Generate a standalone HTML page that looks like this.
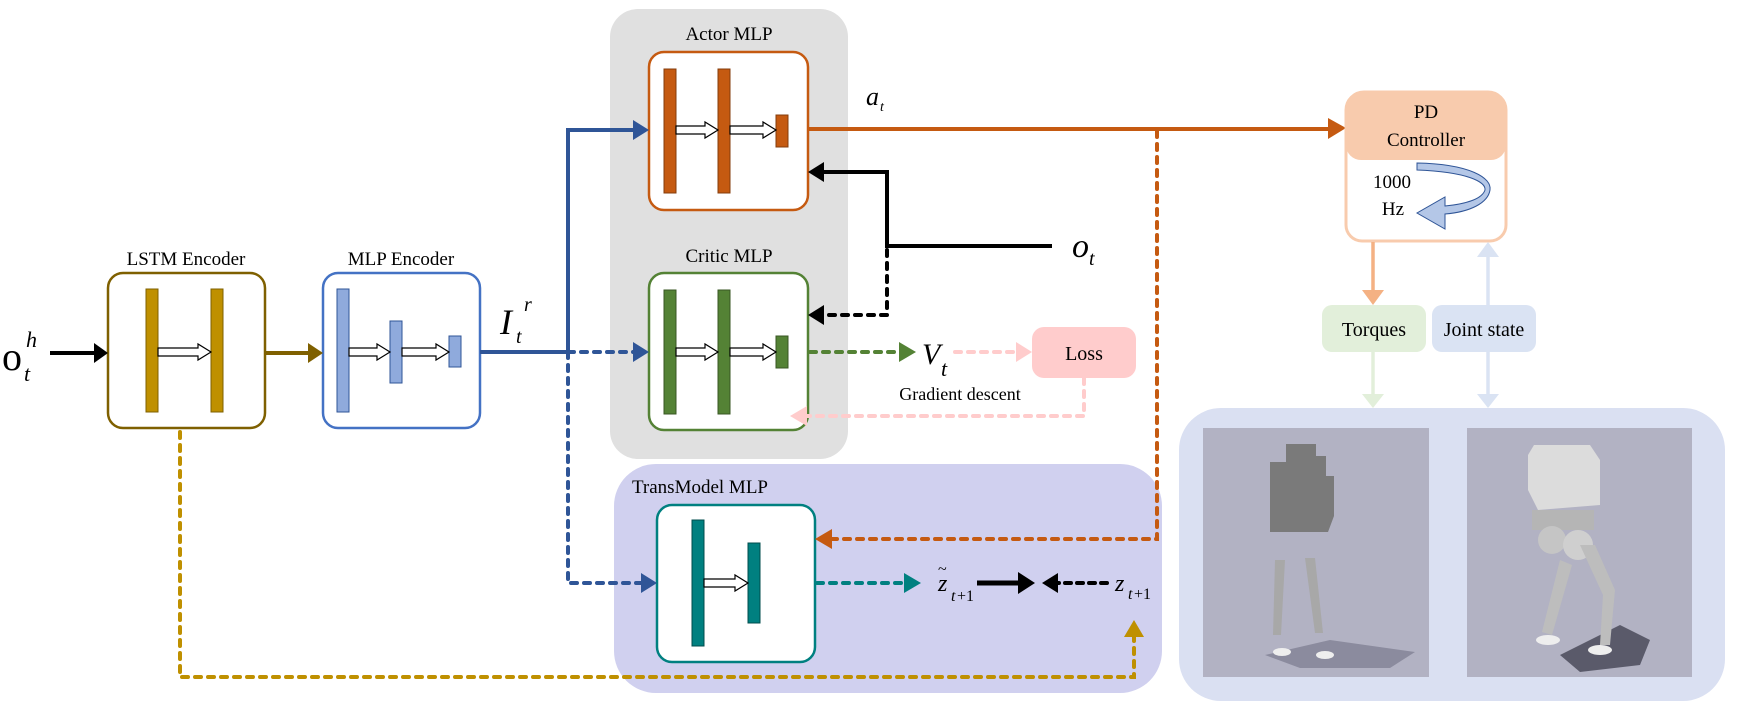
<!DOCTYPE html>
<html><head><meta charset="utf-8"><style>
html,body{margin:0;padding:0;background:#fff;}
svg{display:block;font-family:"Liberation Serif",serif;}
</style></head><body>
<svg width="1747" height="708" viewBox="0 0 1747 708" xmlns="http://www.w3.org/2000/svg">
<!-- panels -->
<rect x="610" y="9" width="238" height="450" rx="28" fill="#e0e0e0"/>
<rect x="614" y="464" width="548" height="229" rx="42" fill="#d0d0ef"/>
<rect x="1179" y="408" width="546" height="293" rx="42" fill="#dae0f2"/>

<!-- titles -->
<g font-size="19" fill="#000" text-anchor="middle">
<text x="729" y="40">Actor MLP</text>
<text x="729" y="262">Critic MLP</text>
<text x="186" y="265">LSTM Encoder</text>
<text x="401" y="265">MLP Encoder</text>
<text x="700" y="493">TransModel MLP</text>
</g>

<!-- LSTM -->
<rect x="108" y="273" width="157" height="155" rx="15" fill="#fff" stroke="#7f6000" stroke-width="2.5"/>
<rect x="146" y="289" width="12" height="123" fill="#bf9000" stroke="#7f6000"/>
<rect x="211" y="289" width="12" height="123" fill="#bf9000" stroke="#7f6000"/>
<path d="M158,348 h40 v-4 l13,8 -13,8 v-4 h-40z" fill="#fff" stroke="#000" stroke-width="1.2"/>
<!-- MLP enc -->
<rect x="323" y="273" width="157" height="155" rx="15" fill="#fff" stroke="#4472c4" stroke-width="2.5"/>
<rect x="337" y="289" width="12" height="123" fill="#8faadc" stroke="#2f5597"/>
<rect x="390" y="321" width="12" height="62" fill="#8faadc" stroke="#2f5597"/>
<rect x="449" y="336" width="12" height="31" fill="#8faadc" stroke="#2f5597"/>
<path d="M349,348 h28 v-4 l13,8 -13,8 v-4 h-28z" fill="#fff" stroke="#000" stroke-width="1.2"/>
<path d="M402,348 h34 v-4 l13,8 -13,8 v-4 h-34z" fill="#fff" stroke="#000" stroke-width="1.2"/>

<!-- Actor -->
<rect x="649" y="52" width="159" height="158" rx="15" fill="#fff" stroke="#c55a11" stroke-width="2.5"/>
<rect x="664" y="69" width="12" height="124" fill="#c55a11" stroke="#843c0c"/>
<rect x="718" y="69" width="12" height="124" fill="#c55a11" stroke="#843c0c"/>
<rect x="776" y="115" width="12" height="32" fill="#c55a11" stroke="#843c0c"/>
<path d="M676,126 h29 v-4 l13,8 -13,8 v-4 h-29z" fill="#fff" stroke="#000" stroke-width="1.2"/>
<path d="M730,126 h33 v-4 l13,8 -13,8 v-4 h-33z" fill="#fff" stroke="#000" stroke-width="1.2"/>
<!-- Critic -->
<rect x="649" y="273" width="159" height="157" rx="15" fill="#fff" stroke="#548235" stroke-width="2.5"/>
<rect x="664" y="290" width="12" height="124" fill="#548235" stroke="#385723"/>
<rect x="718" y="290" width="12" height="124" fill="#548235" stroke="#385723"/>
<rect x="776" y="336" width="12" height="32" fill="#548235" stroke="#385723"/>
<path d="M676,348 h29 v-4 l13,8 -13,8 v-4 h-29z" fill="#fff" stroke="#000" stroke-width="1.2"/>
<path d="M730,348 h33 v-4 l13,8 -13,8 v-4 h-33z" fill="#fff" stroke="#000" stroke-width="1.2"/>
<!-- TransModel -->
<rect x="657" y="505" width="158" height="157" rx="15" fill="#fff" stroke="#008080" stroke-width="2.5"/>
<rect x="692" y="520" width="12" height="126" fill="#008080" stroke="#004d4d"/>
<rect x="748" y="543" width="12" height="80" fill="#008080" stroke="#004d4d"/>
<path d="M704,579 h31 v-4 l13,8 -13,8 v-4 h-31z" fill="#fff" stroke="#000" stroke-width="1.2"/>

<!-- connectors -->
<line x1="50" y1="353" x2="96" y2="353" stroke="#000" stroke-width="4"/>
<path d="M94,343 L108,353 94,363z" fill="#000"/>
<line x1="265" y1="353" x2="310" y2="353" stroke="#7f6000" stroke-width="4"/>
<path d="M308,343 L323,353 308,363z" fill="#7f6000"/>
<path d="M480,352 H568 V130 H635" fill="none" stroke="#2f5597" stroke-width="4"/>
<path d="M633,120 L649,130 633,140z" fill="#2f5597"/>
<path d="M568,352 H635" fill="none" stroke="#2f5597" stroke-width="4" stroke-dasharray="6,7" stroke-linecap="round"/>
<path d="M633,342 L649,352 633,362z" fill="#2f5597"/>
<path d="M568,352 V583 H643" fill="none" stroke="#2f5597" stroke-width="4" stroke-dasharray="6,7" stroke-linecap="round"/>
<path d="M641,573 L657,583 641,593z" fill="#2f5597"/>
<line x1="808" y1="129" x2="1330" y2="129" stroke="#c55a11" stroke-width="4"/>
<path d="M1328,118 L1346,128 1328,139z" fill="#c55a11"/>
<path d="M1157,131 V539 H830" fill="none" stroke="#c55a11" stroke-width="4" stroke-dasharray="6,7" stroke-linecap="round"/>
<path d="M832,529 L815,539 832,549z" fill="#c55a11"/>
<path d="M1052,246 H887 V172 H822" fill="none" stroke="#000" stroke-width="4"/>
<path d="M824,162 L808,172 824,182z" fill="#000"/>
<path d="M887,250 V315 H822" fill="none" stroke="#000" stroke-width="4" stroke-dasharray="6,7" stroke-linecap="round"/>
<path d="M824,305 L808,315 824,325z" fill="#000"/>
<path d="M810,352 H900" fill="none" stroke="#548235" stroke-width="4" stroke-dasharray="6,7" stroke-linecap="round"/>
<path d="M899,342 L916,352 899,362z" fill="#548235"/>
<path d="M955,352 H1017" fill="none" stroke="#ffcccc" stroke-width="4" stroke-dasharray="6,7" stroke-linecap="round"/>
<path d="M1016,342 L1032,352 1016,362z" fill="#ffcccc"/>
<rect x="1032" y="327" width="104" height="51" rx="12" fill="#ffcccc"/>
<path d="M1084,378 V416 H806" fill="none" stroke="#ffcccc" stroke-width="4" stroke-dasharray="6,7" stroke-linecap="round"/>
<path d="M807,406 L790,416 807,426z" fill="#ffcccc"/>
<path d="M817,583 H905" fill="none" stroke="#008080" stroke-width="4" stroke-dasharray="6,7" stroke-linecap="round"/>
<path d="M904,573 L921,583 904,593z" fill="#008080"/>
<line x1="977" y1="583" x2="1020" y2="583" stroke="#000" stroke-width="5"/>
<path d="M1018,572 L1035,583 1018,594z" fill="#000"/>
<path d="M1107,583 H1055" fill="none" stroke="#000" stroke-width="4" stroke-dasharray="6,6" stroke-linecap="round"/>
<path d="M1058,573 L1042,583 1058,593z" fill="#000"/>
<path d="M180,432 V677 H1134 V636" fill="none" stroke="#bf9000" stroke-width="4" stroke-dasharray="6,7" stroke-linecap="round"/>
<path d="M1124,637 L1134,620 1144,637z" fill="#bf9000"/>

<!-- labels -->
<g fill="#000">
<text x="2" y="370" font-size="40">o</text>
<text x="26" y="347" font-size="22" font-style="italic">h</text>
<text x="24" y="381" font-size="22" font-style="italic">t</text>
<text x="500" y="334" font-size="36" font-style="italic">I</text>
<text x="516" y="343" font-size="20" font-style="italic">t</text>
<text x="524" y="311" font-size="20" font-style="italic">r</text>
<text x="866" y="105" font-size="26" font-style="italic">a</text>
<text x="880" y="111" font-size="14" font-style="italic">t</text>
<text x="1072" y="257" font-size="34" font-style="italic">o</text>
<text x="1089" y="265" font-size="20" font-style="italic">t</text>
<text x="922" y="364" font-size="30" font-style="italic">V</text>
<text x="941" y="376" font-size="22" font-style="italic">t</text>
<text x="1084" y="360" font-size="20" text-anchor="middle">Loss</text>
<text x="960" y="400" font-size="18" text-anchor="middle">Gradient descent</text>
<text x="938" y="591" font-size="24" font-style="italic">z</text>
<text x="938" y="574" font-size="16">~</text>
<text x="951" y="601" font-size="16" font-style="italic">t</text><text x="957" y="601" font-size="16">+1</text>
<text x="1115" y="591" font-size="24" font-style="italic">z</text>
<text x="1128" y="599" font-size="16" font-style="italic">t</text><text x="1134" y="599" font-size="16">+1</text>
</g>

<!-- PD controller -->
<path d="M1346,110 a18,18 0 0 1 18,-18 h124 a18,18 0 0 1 18,18 V225 a16,16 0 0 1 -16,16 h-128 a16,16 0 0 1 -16,-16z" fill="#fff" stroke="#f8cbad" stroke-width="3"/>
<path d="M1346,110 a18,18 0 0 1 18,-18 h124 a18,18 0 0 1 18,18 V145 a15,15 0 0 1 -15,15 h-130 a15,15 0 0 1 -15,-15z" fill="#f8cbad"/>
<g font-size="19" text-anchor="middle" fill="#000">
<text x="1426" y="118">PD</text>
<text x="1426" y="146">Controller</text>
<text x="1392" y="188">1000</text>
<text x="1393" y="215">Hz</text>
</g>
<path d="M1417,163 C1470,164 1492,178 1490,190 C1488,203 1470,212 1445,214 L1445,229 L1417,213 L1445,197 L1445,206 C1466,204 1482,199 1485,190 C1486,182 1468,172 1417,170z" fill="#b4c7e7" stroke="#2f5597" stroke-width="1"/>
<line x1="1373" y1="242" x2="1373" y2="292" stroke="#f4b183" stroke-width="3.5"/>
<path d="M1362,290 L1373,305 1384,290z" fill="#f4b183"/>
<rect x="1322" y="305" width="104" height="47" rx="10" fill="#e2efda"/>
<rect x="1432" y="305" width="104" height="47" rx="10" fill="#dae3f3"/>
<text x="1374" y="336" font-size="20" text-anchor="middle">Torques</text>
<text x="1484" y="336" font-size="20" text-anchor="middle">Joint state</text>
<line x1="1373" y1="352" x2="1373" y2="396" stroke="#e2efda" stroke-width="3.5"/>
<path d="M1362,394 L1373,408 1384,394z" fill="#e2efda"/>
<line x1="1488" y1="255" x2="1488" y2="305" stroke="#dae3f3" stroke-width="3.5"/>
<line x1="1488" y1="352" x2="1488" y2="396" stroke="#dae3f3" stroke-width="3.5"/>
<path d="M1477,257 L1488,242 1499,257z" fill="#dae3f3"/>
<path d="M1477,394 L1488,408 1499,394z" fill="#dae3f3"/>

<!-- robot images -->
<rect x="1203" y="428" width="226" height="249" fill="#b2b2c3"/>
<rect x="1467" y="428" width="225" height="249" fill="#b2b2c3"/>
<path d="M1265,655 L1330,640 L1415,652 L1390,668 L1300,668z" fill="#8b8b9e"/>
<path d="M1286,444 h30 v12 h10 v20 h8 v40 l-6,16 h-58 v-70 h16z" fill="#7a7a7a"/>
<path d="M1275,560 l10,0 l-4,75 l-8,0z M1305,558 l10,0 l8,75 l-8,0z" fill="#a8a8a8"/>
<ellipse cx="1282" cy="652" rx="9" ry="4" fill="#eee"/><ellipse cx="1325" cy="655" rx="9" ry="4" fill="#eee"/>
<path d="M1560,655 L1620,625 L1650,640 L1640,665 L1580,672z" fill="#5a5a6a"/>
<path d="M1534,445 h56 l10,15 v45 l-62,5 l-10,-20 v-35z" fill="#dcdcdc"/>
<path d="M1532,510 h62 v20 h-62z" fill="#b5b5b5"/>
<circle cx="1552" cy="540" r="14" fill="#c5c5c5"/><circle cx="1578" cy="545" r="15" fill="#cfcfcf"/>
<path d="M1580,545 l15,0 l20,45 l-5,55 l-10,0 l3,-50z M1560,560 l12,5 l-20,70 l-10,-3z" fill="#bdbdbd"/>
<ellipse cx="1548" cy="640" rx="12" ry="5" fill="#eee"/><ellipse cx="1600" cy="650" rx="12" ry="5" fill="#eee"/>
</svg>
</body></html>
